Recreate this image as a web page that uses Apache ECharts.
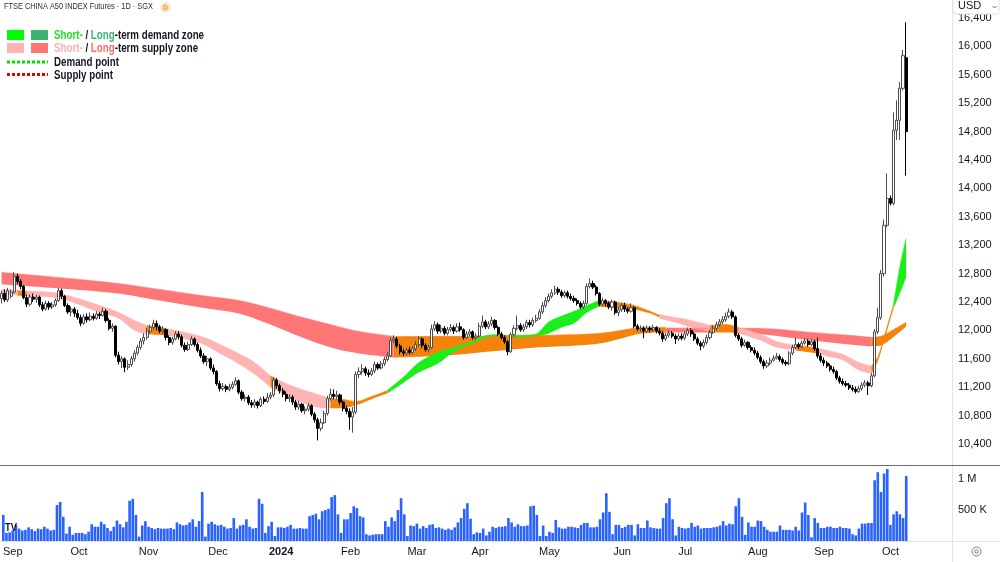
<!DOCTYPE html>
<html>
<head>
<meta charset="utf-8">
<title>FTSE China A50 Futures</title>
<script src="https://cdn.jsdelivr.net/npm/echarts@6/dist/echarts.min.js"></script>
<style>
  html, body { margin: 0; padding: 0; background: #fff; }
  #chart { width: 1000px; height: 562px; }
</style>
</head>
<body>
<div id="chart"></div>
<script>
// daily candles, [open, close, low, high]
var c2308 = [[12450,12520,12380,12560],[12520,12430,12400,12580],[12430,12560,12400,12600]];
var c2309 = [
  [12480,12540,12450,12580],[12540,12760,12520,12820],[12760,12690,12650,12800],[12690,12620,12580,12720],
  [12620,12460,12440,12640],[12460,12370,12330,12500],[12370,12470,12340,12510],[12470,12440,12400,12520],
  [12440,12470,12390,12500],[12470,12360,12330,12490],[12360,12300,12270,12400],[12300,12380,12280,12420],
  [12380,12330,12290,12410],[12330,12360,12300,12400],[12360,12420,12330,12450],[12420,12560,12400,12600],
  [12560,12480,12440,12590],[12480,12350,12330,12500],[12350,12260,12230,12380],[12260,12300,12200,12340],
  [12300,12240,12190,12330]];
var c2310 = [
  [12240,12180,12150,12290],[12180,12100,12060,12220],[12100,12190,12080,12230],[12190,12150,12110,12240],
  [12150,12200,12130,12250],[12200,12170,12140,12240],[12170,12230,12150,12270],[12230,12210,12160,12260],
  [12210,12270,12190,12320],[12270,12140,12110,12300],[12140,12030,12000,12170],[12030,12060,11980,12100],
  [12060,11650,11620,12070],[11650,11560,11520,11700],[11560,11600,11470,11640],[11600,11480,11410,11620],
  [11480,11520,11440,11580],[11520,11600,11490,11640],[11600,11680,11560,11720],[11680,11760,11650,11800],
  [11760,11850,11730,11890],[11850,11900,11800,11960]];
var c2311 = [
  [11900,11990,11870,12040],[11990,12040,11960,12080],[12040,12100,12010,12150],[12100,12050,12000,12140],
  [12050,11990,11960,12080],[11990,12010,11950,12060],[12010,11900,11860,12030],[11900,11830,11790,11930],
  [11830,11880,11800,11910],[11880,11950,11860,11990],[11950,11910,11870,11990],[11910,11790,11760,11940],
  [11790,11730,11700,11830],[11730,11800,11710,11840],[11800,11880,11780,11920],[11880,11800,11770,11900],
  [11800,11720,11690,11830],[11720,11640,11610,11760],[11640,11560,11530,11680],[11560,11600,11500,11640],
  [11600,11470,11440,11620],[11470,11420,11380,11520]];
var c2312 = [
  [11420,11250,11220,11440],[11250,11180,11140,11290],[11180,11210,11150,11260],[11210,11170,11130,11240],
  [11170,11200,11140,11250],[11200,11240,11170,11280],[11240,11290,11220,11340],[11290,11130,11100,11310],
  [11130,11040,11010,11160],[11040,11060,11000,11100],[11060,10980,10950,11090],[10980,10950,10910,11020],
  [10950,10990,10910,11030],[10990,10940,10900,11010],[10940,11030,10920,11060],[11030,11000,10960,11070],
  [11000,11060,10980,11120],[11060,11090,11030,11130],[11090,11300,11060,11340],[11300,11220,11180,11330]];
var c2401 = [
  [11220,11150,11110,11250],[11150,11100,11060,11190],[11100,11040,11000,11140],[11040,11060,10990,11100],
  [11060,10990,10950,11090],[10990,10920,10880,11020],[10920,10960,10880,11010],[10960,10870,10840,10980],
  [10870,10890,10820,10930],[10890,10940,10860,10980],[10940,10820,10790,10960],[10820,10740,10700,10850],
  [10740,10620,10450,10770],[10620,10700,10580,10760],[10700,10830,10680,10870],[10830,11040,10800,11080],
  [11040,11100,11010,11180],[11100,11070,11030,11170],[11070,11090,11030,11150],[11090,10990,10950,11110],
  [10990,10900,10860,11010],[10900,10860,10820,10940]];
var c2402 = [
  [10860,10780,10600,10900],[10780,10850,10560,10920],[10850,11380,10820,11420],[11380,11420,11330,11480],
  [11420,11460,11380,11520],[11460,11400,11360,11490],[11400,11380,11340,11450],[11380,11430,11360,11470],
  [11430,11520,11400,11560],[11520,11470,11440,11550],[11470,11530,11450,11570],[11530,11590,11500,11630],
  [11590,11640,11560,11700],[11640,11860,11620,11900],[11860,11880,11820,11930],[11880,11780,11750,11910],
  [11780,11700,11660,11810],[11700,11680,11640,11740],[11680,11720,11650,11760],[11720,11690,11660,11770],
  [11690,11740,11660,11780]];
var c2403 = [
  [11740,11800,11710,11850],[11800,11880,11770,11920],[11880,11790,11750,11900],[11790,11730,11700,11820],
  [11730,11760,11690,11800],[11760,12020,11740,12080],[12020,12080,11990,12130],[12080,11990,11950,12110],
  [11990,12030,11960,12080],[12030,11960,11930,12060],[11960,12010,11930,12050],[12010,12040,11980,12090],
  [12040,11990,11950,12070],[11990,12050,11970,12100],[12050,12010,11980,12110],[12010,11900,11870,12030],
  [11900,11950,11880,11990],[11950,11980,11920,12020],[11980,11900,11870,12000],[11900,11920,11860,11960]];
var c2404 = [
  [11920,12060,11900,12110],[12060,12120,12030,12210],[12120,12050,12020,12150],[12050,12090,12020,12130],
  [12090,12140,12060,12190],[12140,12040,12010,12160],[12040,11950,11920,12070],[11950,11900,11870,11980],
  [11900,11840,11810,11930],[11840,11700,11650,11860],[11700,11940,11680,11970],[11940,12030,11910,12070],
  [12030,12070,12000,12210],[12070,12010,11980,12100],[12010,12050,11980,12090],[12050,12110,12020,12150],
  [12110,12080,12040,12150],[12080,12140,12050,12180],[12140,12170,12110,12220],[12170,12260,12150,12300],
  [12260,12350,12230,12400],[12350,12420,12320,12470]];
var c2405 = [
  [12420,12480,12390,12520],[12480,12530,12450,12580],[12530,12580,12500,12630],[12580,12540,12500,12610],
  [12540,12490,12460,12570],[12490,12530,12460,12560],[12530,12480,12450,12560],[12480,12450,12420,12520],
  [12450,12420,12390,12490],[12420,12380,12350,12450],[12380,12330,12300,12410],[12330,12380,12300,12420],
  [12380,12620,12360,12660],[12620,12660,12590,12730],[12660,12610,12580,12700],[12610,12520,12490,12640],
  [12520,12370,12340,12540],[12370,12420,12340,12460],[12420,12380,12340,12440],[12380,12330,12300,12410],
  [12330,12400,12280,12430],[12400,12250,12220,12420],[12250,12290,12200,12330]];
var c2406 = [
  [12290,12350,12260,12380],[12350,12300,12260,12390],[12300,12270,12240,12330],[12270,12320,12250,12380],
  [12320,12060,12030,12340],[12060,12020,11990,12090],[12020,12030,11980,12070],[12030,11990,11890,12060],
  [11990,12030,11960,12070],[12030,12010,11970,12060],[12010,12040,11980,12080],[12040,11990,11960,12060],
  [11990,11960,11930,12030],[11960,11880,11840,11990],[11880,11930,11850,11970],[11930,11960,11900,12000],
  [11960,11920,11890,11990],[11920,11880,11810,11950],[11880,11920,11850,11960],[11920,11890,11860,11960]];
var c2407 = [
  [11890,11950,11860,11990],[11950,12000,11920,12040],[12000,11950,11910,12030],[11950,11880,11850,11980],
  [11880,11820,11790,11910],[11820,11780,11720,11850],[11780,11830,11750,11870],[11830,11900,11800,11940],
  [11900,11970,11870,12010],[11970,12030,11950,12070],[12030,12080,12000,12120],[12080,12120,12050,12160],
  [12120,12150,12090,12200],[12150,12200,12120,12250],[12200,12260,12170,12310],[12260,12190,12160,12290],
  [12190,11930,11900,12210],[11930,11880,11850,11960],[11880,11790,11760,11910],[11790,11830,11770,11870],
  [11830,11760,11730,11850],[11760,11720,11690,11790],[11720,11680,11650,11760]];
var c2408 = [
  [11680,11620,11590,11710],[11620,11560,11530,11650],[11560,11500,11460,11590],[11500,11540,11470,11580],
  [11540,11580,11510,11620],[11580,11610,11560,11650],[11610,11630,11590,11680],[11630,11590,11560,11660],
  [11590,11550,11520,11620],[11550,11530,11500,11580],[11530,11680,11510,11710],[11680,11760,11650,11800],
  [11760,11800,11740,11900],[11800,11770,11740,11830],[11770,11820,11750,11860],[11820,11850,11800,11890],
  [11850,11800,11770,11880],[11800,11840,11780,11880],[11840,11740,11710,11870],[11740,11640,11610,11900],
  [11640,11580,11550,11680]];
var c2409 = [
  [11580,11540,11500,11620],[11540,11500,11470,11570],[11500,11450,11420,11530],[11450,11420,11390,11490],
  [11420,11330,11300,11440],[11330,11280,11250,11360],[11280,11250,11220,11320],[11250,11230,11200,11290],
  [11230,11190,11160,11260],[11190,11170,11140,11230],[11170,11140,11110,11210],[11140,11180,11120,11220],
  [11180,11230,11150,11270],[11230,11260,11200,11300],[11260,11220,11090,11290],[11220,11360,11200,11400],
  [11360,11980,11340,12020],[11980,12180,11950,12320],[12180,12800,12150,12850],[12800,13480,12760,13560],
  [13480,13860,13450,14210]];
var c2410 = [
  [13860,13790,13760,13900],[13790,14820,13760,15070],[14820,14960,14680,15240],[14960,15410,14680,15500],
  [15410,15870,15380,15950],[15840,14800,14180,16340]];

// volume, thousands of contracts (one per candle)
var volumeK = [
  420,130,140,
  170,260,200,170,180,220,190,160,200,190,230,200,170,180,580,630,390,120,230,100,130,
  130,130,110,150,270,230,230,310,270,210,160,230,330,270,220,310,650,680,420,70,250,320,
  230,210,190,210,200,200,200,210,190,300,270,250,260,300,350,230,320,790,70,280,310,270,
  250,260,230,200,210,370,200,250,260,350,230,200,210,680,600,130,240,310,80,220,
  220,210,230,260,200,200,210,200,200,400,420,440,350,480,500,520,710,740,430,130,350,350,
  450,560,530,400,380,110,90,100,110,110,110,320,230,380,320,500,690,430,80,250,240,
  280,200,240,210,260,270,210,220,200,180,200,180,220,300,370,520,610,360,110,140,
  130,200,90,150,230,210,230,230,240,370,300,230,270,240,240,250,560,570,420,80,250,80,
  150,130,340,220,200,200,230,230,220,210,260,290,290,220,220,230,350,460,770,470,110,260,260,
  210,230,260,260,90,270,210,210,330,220,210,200,200,370,610,690,350,90,230,210,
  200,210,290,230,250,200,210,210,210,220,230,250,320,250,280,270,560,690,390,100,300,230,230,
  330,320,230,180,150,150,150,250,180,180,180,170,230,170,460,620,420,60,370,290,210,
  210,230,230,210,210,230,210,210,200,110,90,200,280,280,290,290,980,1110,790,1090,1160,
  260,430,480,430,370,1050];

// month labels: [candle index, label]
var monthTicks = [[3,'Sep'],[24,'Oct'],[46,'Nov'],[68,'Dec'],[88,'2024'],[110,'Feb'],[131,'Mar'],
  [151,'Apr'],[173,'May'],[196,'Jun'],[216,'Jul'],[239,'Aug'],[260,'Sep'],[281,'Oct']];
var priceTicks = [10400,10800,11200,11600,12000,12400,12800,13200,13600,14000,14400,14800,15200,15600,16000,16400];
var volumeTicks = [500000, 1000000];

// zone bands, points [index, lower, upper]
var ltSupply1 = [[0,12648,12817],[34,12535,12676],[50,12422,12577],[63,12324,12493],[75,12239,12422],
  [84,12099,12324],[94,11916,12197],[105,11747,12070],[113,11676,11986],[124,11620,11916]];
var ltMixed1 = [[124,11620,11910],[140,11648,11916],[158,11718,11916],[170,11761,11930],[189,11817,11958],
  [204,11965,12042],[210,11972,12042]];
var ltSupply2 = [[210,11972,12035],[223,11972,12028]];
var ltMixed2 = [[223,11972,12028],[228,11970,12035],[232,11965,12035]];
var ltSupply3 = [[232,11960,12030],[240,11944,12028],[256,11859,11972],[268,11803,11930],[275,11775,11901]];
var ltMixed3 = [[275,11775,11901],[278,11789,11916],[281,11873,11986],[286,12056,12113]];

var stSupply1 = [[0,12507,12577],[5,12493,12563]];
var stMixed1 = [[5,12493,12563],[8,12480,12550]];
var stSupply2 = [[8,12480,12550],[18,12451,12521],[31,12253,12352],[37,12169,12253],[42,12000,12141],[46,11944,12070]];
var stMixed2 = [[46,11944,12070],[52,11930,12028]];
var stSupply3 = [[52,11930,12028],[63,11817,11916],[69,11676,11803],[73,11578,11718],[79,11409,11578],[85,11200,11360]];
var stMixed3 = [[85,11200,11360],[87,11155,11310]];
var stSupply4 = [[87,11155,11310],[94,11000,11183],[103,10902,11057],[104,10902,11040]];
var stMixed4 = [[104,10902,11040],[108,10905,11028],[112,10944,11000],[117,11030,11070],[122,11113,11155]];
var stDemand1 = [[122,11113,11155],[127,11260,11340],[132,11409,11549],[138,11535,11690],[143,11700,11760],
  [149,11815,11845],[154,11905,11935],[157,11915,11940]];
var stMixed5 = [[157,11915,11940],[160,11900,11930],[162,11900,11930]];
var stDemand2 = [[162,11900,11930],[166,11905,11935],[169,11920,11950],[173,11958,12120],[177,12040,12200],
  [181,12099,12268],[185,12250,12350],[189,12338,12422]];
var stMixed6 = [[189,12338,12422],[195,12310,12394],[200,12296,12352],[205,12240,12270],[208,12180,12211]];
var stSupply5 = [[208,12169,12225],[213,12110,12180],[218,12042,12141],[224,11986,12070]];
var stMixed7 = [[224,11986,12070],[229,11986,12084],[233,11958,12042]];
var stSupply6 = [[233,11958,12042],[240,11859,11944],[245,11761,11845],[251,11718,11789]];
var stMixed8 = [[251,11718,11789],[254,11700,11775],[258,11676,11747]];
var stSupply7 = [[258,11676,11747],[261,11634,11718],[266,11580,11660],[271,11437,11549],[275,11390,11500]];
var stMixed9 = [[275,11390,11500],[277,11560,11620],[279,11850,11900],[282,12310,12360]];
var stDemand3 = [[282,12310,12360],[284,12521,12887],[286,12746,13295]];

var SANS = "'Liberation Sans',Arial,sans-serif";
var C_ST_DEMAND = '#19f019', C_LT_DEMAND = '#3cb371';
var C_ST_SUPPLY = '#ffb4b4', C_LT_SUPPLY = '#ff7676';
var C_MIXED = '#f5820a';
var LEG_FONT = 'bold 13px ' + SANS;
var LEG_SCALE = 0.75;   // the reference text is horizontally condensed

var candles = [].concat(c2308, c2309, c2310, c2311, c2312, c2401, c2402, c2403,
  c2404, c2405, c2406, c2407, c2408, c2409, c2410);
var volumes = volumeK.map(function (v) { return v * 1000; });

// 14 empty slots on the right like the reference
var cats = [];
for (var i = 0; i < candles.length + 14; i++) cats.push(String(i));
var monthAt = {};
monthTicks.forEach(function (m) { monthAt[m[0]] = m[1]; });

var bandCount = 0;
function band(pts, color) {
  var key = 'band' + (bandCount++);
  return [{
    type: 'line', stack: key, silent: true, symbol: 'none', smooth: 0.35, z: 1,
    xAxisIndex: 0, yAxisIndex: 0,
    lineStyle: { opacity: 0 },
    data: pts.map(function (p) { return [p[0], p[1]]; })
  }, {
    type: 'line', stack: key, silent: true, symbol: 'none', smooth: 0.35, z: 1,
    xAxisIndex: 0, yAxisIndex: 0,
    lineStyle: { color: color, width: 0.6 },
    areaStyle: { color: color, opacity: 1 },
    data: pts.map(function (p) { return [p[0], p[2] - p[1]]; })
  }];
}

var series = [].concat(
  band(ltSupply1, C_LT_SUPPLY), band(ltMixed1, C_MIXED), band(ltSupply2, C_LT_SUPPLY),
  band(ltMixed2, C_MIXED), band(ltSupply3, C_LT_SUPPLY), band(ltMixed3, C_MIXED),
  band(stSupply1, C_ST_SUPPLY), band(stMixed1, C_MIXED), band(stSupply2, C_ST_SUPPLY),
  band(stMixed2, C_MIXED), band(stSupply3, C_ST_SUPPLY), band(stMixed3, C_MIXED),
  band(stSupply4, C_ST_SUPPLY), band(stMixed4, C_MIXED), band(stDemand1, C_ST_DEMAND),
  band(stMixed5, C_MIXED), band(stDemand2, C_ST_DEMAND), band(stMixed6, C_MIXED),
  band(stSupply5, C_ST_SUPPLY), band(stMixed7, C_MIXED), band(stSupply6, C_ST_SUPPLY),
  band(stMixed8, C_MIXED), band(stSupply7, C_ST_SUPPLY), band(stMixed9, C_MIXED),
  band(stDemand3, C_ST_DEMAND)
);
series.push({
  type: 'candlestick', name: 'A50', xAxisIndex: 0, yAxisIndex: 0, z: 3,
  barWidth: 2.6,
  itemStyle: { color: '#ffffff', color0: '#000000', borderColor: '#4d4d4d', borderColor0: '#000000', borderWidth: 1 },
  data: candles
});
series.push({
  type: 'bar', name: 'Volume', xAxisIndex: 1, yAxisIndex: 1, barWidth: 2.6,
  itemStyle: { color: '#2962ff' },
  data: volumes
});

var legendY1 = 30, legendY2 = 43;
var option = {
  animation: false,
  backgroundColor: '#ffffff',
  grid: [
    { left: 0, width: 952, top: 0, height: 465 },
    { left: 0, width: 952, top: 466, height: 75 }
  ],
  xAxis: [
    { type: 'category', gridIndex: 0, data: cats, boundaryGap: true, show: false },
    {
      type: 'category', gridIndex: 1, data: cats, boundaryGap: true,
      axisLine: { show: false }, axisTick: { show: false },
      axisLabel: {
        margin: 5, fontSize: 11, fontFamily: SANS, color: '#131722',
        interval: function (idx) { return monthAt[idx] !== undefined; },
        formatter: function (v, idx) {
          var m = monthAt[idx];
          if (m === undefined) return '';
          return m === '2024' ? '{b|2024}' : m;
        },
        rich: { b: { fontWeight: 'bold', fontSize: 11, fontFamily: SANS, color: '#131722' } }
      }
    }
  ],
  yAxis: [
    {
      type: 'value', gridIndex: 0, position: 'right', min: 10104, max: 16654, scale: true,
      axisLine: { show: false }, axisTick: { show: false }, splitLine: { show: false },
      axisLabel: {
        customValues: priceTicks, margin: 6, fontSize: 11, fontFamily: SANS, color: '#131722',
        formatter: function (v) { return String(v).replace(/\B(?=(\d{3})+(?!\d))/g, ','); }
      }
    },
    {
      type: 'value', gridIndex: 1, position: 'right', min: 0, max: 1209677,
      axisLine: { show: false }, axisTick: { show: false }, splitLine: { show: false },
      axisLabel: {
        customValues: volumeTicks, margin: 6, fontSize: 11, fontFamily: SANS, color: '#131722',
        formatter: function (v) { return v >= 1000000 ? (v / 1000000) + ' M' : (v / 1000) + ' K'; }
      }
    }
  ],
  graphic: [
    { type: 'line', silent: true, z: 10, shape: { x1: 952.5, y1: 0, x2: 952.5, y2: 562 }, style: { stroke: '#e0e3eb', lineWidth: 1 } },
    { type: 'line', silent: true, z: 10, shape: { x1: 0, y1: 465.5, x2: 1000, y2: 465.5 }, style: { stroke: '#6a6d78', lineWidth: 1 } },
    { type: 'line', silent: true, z: 10, shape: { x1: 0, y1: 541.5, x2: 1000, y2: 541.5 }, style: { stroke: '#e0e3eb', lineWidth: 1 } },
    // price scale currency button
    { type: 'rect', silent: true, z: 20, shape: { x: 953, y: -3, width: 46, height: 17, r: 3 }, style: { fill: '#ffffff', stroke: '#e0e3eb' } },
    { type: 'text', silent: true, z: 21, x: 958, y: 6, style: { text: 'USD', font: '11px ' + SANS, fill: '#131722', verticalAlign: 'middle' } },
    { type: 'polyline', silent: true, z: 21, shape: { points: [[992.5, 6], [994.5, 8], [996.5, 6]] }, style: { stroke: '#6a6d78', lineWidth: 1, fill: null } },
    // title
    { type: 'text', silent: true, z: 20, x: 4, y: 7, scaleX: 0.82, style: { text: 'FTSE CHINA A50 INDEX Futures · 1D · SGX', font: '9px ' + SANS, fill: '#2a2e39', verticalAlign: 'middle' } },
    { type: 'circle', silent: true, z: 20, shape: { cx: 165.5, cy: 7.5, r: 5 }, style: { fill: '#fde3bf' } },
    { type: 'text', silent: true, z: 21, x: 165.5, y: 8, style: { text: 'D', font: 'bold 7px ' + SANS, fill: '#f29a2e', align: 'center', verticalAlign: 'middle' } },
    // legend
    { type: 'rect', silent: true, z: 20, shape: { x: 7, y: legendY1, width: 17, height: 10 }, style: { fill: '#00ff00' } },
    { type: 'rect', silent: true, z: 20, shape: { x: 31, y: legendY1, width: 17, height: 10 }, style: { fill: C_LT_DEMAND } },
    { type: 'rect', silent: true, z: 20, shape: { x: 7, y: legendY2, width: 17, height: 10 }, style: { fill: C_ST_SUPPLY } },
    { type: 'rect', silent: true, z: 20, shape: { x: 31, y: legendY2, width: 17, height: 10 }, style: { fill: C_LT_SUPPLY } },
    { type: 'line', silent: true, z: 20, shape: { x1: 7, y1: 62, x2: 48, y2: 62 }, style: { stroke: '#00e000', lineWidth: 3, lineDash: [3, 2] } },
    { type: 'line', silent: true, z: 20, shape: { x1: 7, y1: 74.5, x2: 48, y2: 74.5 }, style: { stroke: '#e60000', lineWidth: 3, lineDash: [3, 2] } },
    {
      type: 'text', silent: true, z: 20, x: 54, y: 35, scaleX: LEG_SCALE,
      style: {
        text: '{g|Short-}{k| / }{d|Long}{k|-term demand zone}', verticalAlign: 'middle',
        rich: {
          g: { fill: '#19e619', font: LEG_FONT },
          k: { fill: '#131722', font: LEG_FONT },
          d: { fill: C_LT_DEMAND, font: LEG_FONT }
        }
      }
    },
    {
      type: 'text', silent: true, z: 20, x: 54, y: 48.5, scaleX: LEG_SCALE,
      style: {
        text: '{p|Short-}{k| / }{r|Long}{k|-term supply zone}', verticalAlign: 'middle',
        rich: {
          p: { fill: '#ffb0b0', font: LEG_FONT },
          k: { fill: '#131722', font: LEG_FONT },
          r: { fill: '#ff6b6b', font: LEG_FONT }
        }
      }
    },
    { type: 'text', silent: true, z: 20, x: 54, y: 62, scaleX: LEG_SCALE, style: { text: 'Demand point', font: LEG_FONT, fill: '#131722', verticalAlign: 'middle' } },
    { type: 'text', silent: true, z: 20, x: 54, y: 75, scaleX: LEG_SCALE, style: { text: 'Supply point', font: LEG_FONT, fill: '#131722', verticalAlign: 'middle' } },
    // watermark logo and settings icon
    { type: 'text', silent: true, z: 20, x: 5, y: 528, scaleX: 0.85, style: { text: 'TV', font: '900 11px ' + SANS, fill: '#131722', verticalAlign: 'middle' } },
    { type: 'circle', silent: true, z: 20, shape: { cx: 976.5, cy: 551.5, r: 4.5 }, style: { fill: null, stroke: '#787b86', lineWidth: 1 } },
    { type: 'circle', silent: true, z: 20, shape: { cx: 976.5, cy: 551.5, r: 1.8 }, style: { fill: null, stroke: '#787b86', lineWidth: 1 } }
  ],
  series: series
};

var myChart = echarts.init(document.getElementById('chart'));
myChart.setOption(option);
</script>
</body>
</html>
